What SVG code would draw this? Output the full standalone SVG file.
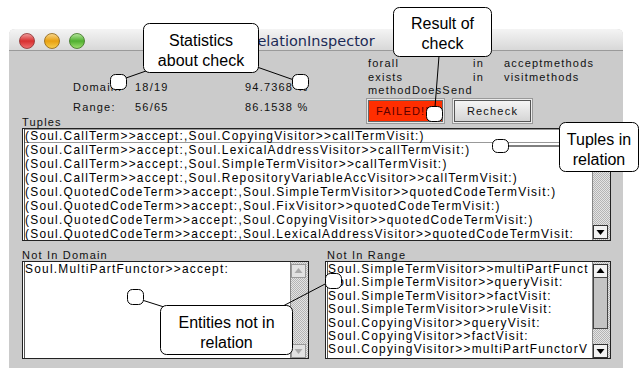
<svg xmlns="http://www.w3.org/2000/svg" width="640" height="368" viewBox="0 0 640 368">
<defs>
<style>
.lbl{font-family:"Liberation Sans",Arial,sans-serif;font-size:11px;letter-spacing:1.2px;fill:#111}
.lst{font-family:"Liberation Sans",Arial,sans-serif;font-size:11.9px;letter-spacing:1.25px;fill:#000}
.call{fill:#fff;stroke:#000;stroke-width:1}
.ct{font-family:"Liberation Sans",Arial,sans-serif;font-size:16px;fill:#000;text-anchor:middle}
.knob{fill:#fff;stroke:#000;stroke-width:1}
.conn{stroke:#000;stroke-width:1;fill:none}
.box{fill:#fff;stroke:#222;stroke-width:1}
.arr{fill:#f2f2f2;stroke:#333;stroke-width:1}
.arrd{fill:#e2e2e2;stroke:#999;stroke-width:1}
</style>
<linearGradient id="tb" x1="0" y1="0" x2="0" y2="1"><stop offset="0" stop-color="#f4f4f4"/><stop offset="1" stop-color="#d8d8d8"/></linearGradient>
<linearGradient id="lr" x1="0" y1="0" x2="0" y2="1"><stop offset="0" stop-color="#f0a0a0"/><stop offset="0.5" stop-color="#d83030"/><stop offset="1" stop-color="#f07070"/></linearGradient>
<linearGradient id="ly" x1="0" y1="0" x2="0" y2="1"><stop offset="0" stop-color="#f8d890"/><stop offset="0.5" stop-color="#e8a010"/><stop offset="1" stop-color="#f8d050"/></linearGradient>
<linearGradient id="lg" x1="0" y1="0" x2="0" y2="1"><stop offset="0" stop-color="#b8e8a0"/><stop offset="0.5" stop-color="#50b030"/><stop offset="1" stop-color="#a0e070"/></linearGradient>
<linearGradient id="btn" x1="0" y1="0" x2="0" y2="1"><stop offset="0" stop-color="#f6f6f6"/><stop offset="1" stop-color="#d4d4d4"/></linearGradient>
<pattern id="dots" width="2" height="2" patternUnits="userSpaceOnUse"><rect width="2" height="2" fill="#e4e4e4"/><rect width="1" height="1" fill="#b4b4b4"/><rect x="1" y="1" width="1" height="1" fill="#b4b4b4"/></pattern>
<clipPath id="cTup"><rect x="23" y="129" width="569" height="111"/></clipPath>
<clipPath id="cRng"><rect x="326" y="262" width="266" height="96"/></clipPath>
</defs>

<rect width="640" height="368" fill="#fff"/>

<g id="window">
<path d="M9,368 V35 Q9,29 15,29 H617 Q623,29 623,35 V368 Z" fill="#cbcbcb"/>
<path d="M9,50 V35 Q9,29 15,29 H617 Q623,29 623,35 V50 Z" fill="url(#tb)"/>
<line x1="9" y1="50.5" x2="623" y2="50.5" stroke="#9a9a9a"/>
<circle cx="27" cy="41" r="7.5" fill="url(#lr)" stroke="#8a3030" stroke-width="0.8"/>
<circle cx="52" cy="41" r="7.5" fill="url(#ly)" stroke="#8a6010" stroke-width="0.8"/>
<circle cx="77" cy="41" r="7.5" fill="url(#lg)" stroke="#3a7020" stroke-width="0.8"/>
<text x="248" y="46" font-family="DejaVu Sans,Verdana,sans-serif" font-size="14.5" fill="#1c2a55">RelationInspector</text>
</g>

<g id="stats">
<text class="lbl" x="73" y="91">Domain:</text>
<text class="lbl" x="135" y="91">18/19</text>
<text class="lbl" x="245" y="91">94.7368 %</text>
<text class="lbl" x="73" y="111">Range:</text>
<text class="lbl" x="135" y="111">56/65</text>
<text class="lbl" x="245" y="111">86.1538 %</text>
</g>

<g id="query">
<text class="lbl" x="368" y="67">forall</text>
<text class="lbl" x="473" y="67">in</text>
<text class="lbl" x="504" y="67">acceptmethods</text>
<text class="lbl" x="368" y="81">exists</text>
<text class="lbl" x="473" y="81">in</text>
<text class="lbl" x="504" y="81">visitmethods</text>
<text class="lbl" x="368" y="94">methodDoesSend</text>
</g>

<g id="failed">
<rect x="366.5" y="98.5" width="78" height="25" fill="#e8e8e8" stroke="#999"/>
<rect x="368.5" y="100.5" width="74" height="21" fill="#ff2e00" stroke="#666"/>
<text class="lbl" x="376" y="115" style="fill:#5a0000">FAILED!!</text>
</g>

<g id="recheck">
<rect x="452.5" y="98.5" width="80" height="25" fill="#ececec" stroke="#999"/>
<rect x="454.5" y="100.5" width="76" height="21" fill="url(#btn)" stroke="#555"/>
<text class="lbl" x="492.5" y="115" text-anchor="middle">Recheck</text>
</g>

<g id="tuples">
<text class="lbl" x="22" y="126">Tuples</text>
<rect class="box" x="22.5" y="128.5" width="588" height="112"/>
<line x1="24.5" y1="129" x2="24.5" y2="240" stroke="#555"/>
<rect x="24.5" y="129.5" width="567" height="13" fill="none" stroke="#333" stroke-dasharray="1,1"/>
<g clip-path="url(#cTup)">
<text class="lst" x="25" y="140">(Soul.CallTerm&gt;&gt;accept:,Soul.CopyingVisitor&gt;&gt;callTermVisit:)</text>
<text class="lst" x="25" y="154">(Soul.CallTerm&gt;&gt;accept:,Soul.LexicalAddressVisitor&gt;&gt;callTermVisit:)</text>
<text class="lst" x="25" y="168">(Soul.CallTerm&gt;&gt;accept:,Soul.SimpleTermVisitor&gt;&gt;callTermVisit:)</text>
<text class="lst" x="25" y="182">(Soul.CallTerm&gt;&gt;accept:,Soul.RepositoryVariableAccVisitor&gt;&gt;callTermVisit:)</text>
<text class="lst" x="25" y="196">(Soul.QuotedCodeTerm&gt;&gt;accept:,Soul.SimpleTermVisitor&gt;&gt;quotedCodeTermVisit:)</text>
<text class="lst" x="25" y="210">(Soul.QuotedCodeTerm&gt;&gt;accept:,Soul.FixVisitor&gt;&gt;quotedCodeTermVisit:)</text>
<text class="lst" x="25" y="224">(Soul.QuotedCodeTerm&gt;&gt;accept:,Soul.CopyingVisitor&gt;&gt;quotedCodeTermVisit:)</text>
<text class="lst" x="25" y="238">(Soul.QuotedCodeTerm&gt;&gt;accept:,Soul.LexicalAddressVisitor&gt;&gt;quotedCodeTermVisit:</text>
</g>
<rect x="592" y="129" width="18" height="111" fill="url(#dots)"/>
<line x1="592.5" y1="129" x2="592.5" y2="240" stroke="#888"/>
<rect class="arr" x="593.5" y="225.5" width="14" height="13"/>
<polygon points="596.5,230 604.5,230 600.5,235" fill="#000"/>
</g>

<g id="notInDomain">
<text class="lbl" x="22" y="259">Not In Domain</text>
<rect class="box" x="22.5" y="261.5" width="286" height="97"/>
<line x1="24.5" y1="262" x2="24.5" y2="358" stroke="#555"/>
<text class="lst" x="25" y="273">Soul.MultiPartFunctor&gt;&gt;accept:</text>
<rect x="290" y="262" width="18" height="96" fill="url(#dots)"/>
<line x1="290.5" y1="262" x2="290.5" y2="358" stroke="#888"/>
<rect class="arrd" x="291.5" y="264.5" width="14" height="13"/>
<polygon points="294.5,273 302.5,273 298.5,268" fill="#aaa"/>
<rect class="arrd" x="291.5" y="344.5" width="14" height="13"/>
<polygon points="294.5,349 302.5,349 298.5,354" fill="#aaa"/>
</g>

<g id="notInRange">
<text class="lbl" x="327" y="259">Not In Range</text>
<rect class="box" x="325.5" y="261.5" width="285" height="97"/>
<line x1="327.5" y1="262" x2="327.5" y2="358" stroke="#555"/>
<g clip-path="url(#cRng)">
<text class="lst" x="328" y="273">Soul.SimpleTermVisitor&gt;&gt;multiPartFunct</text>
<text class="lst" x="328" y="286.4">Soul.SimpleTermVisitor&gt;&gt;queryVisit:</text>
<text class="lst" x="328" y="299.8">Soul.SimpleTermVisitor&gt;&gt;factVisit:</text>
<text class="lst" x="328" y="313.2">Soul.SimpleTermVisitor&gt;&gt;ruleVisit:</text>
<text class="lst" x="328" y="326.6">Soul.CopyingVisitor&gt;&gt;queryVisit:</text>
<text class="lst" x="328" y="340">Soul.CopyingVisitor&gt;&gt;factVisit:</text>
<text class="lst" x="328" y="353.4">Soul.CopyingVisitor&gt;&gt;multiPartFunctorV</text>
</g>
<rect x="592" y="262" width="18" height="96" fill="url(#dots)"/>
<line x1="592.5" y1="262" x2="592.5" y2="358" stroke="#888"/>
<rect class="arr" x="593.5" y="264.5" width="14" height="13"/>
<polygon points="596.5,273 604.5,273 600.5,268" fill="#000"/>
<rect x="593.5" y="277.5" width="14" height="51" fill="#c4c4c4" stroke="#444"/>
<rect class="arr" x="593.5" y="344.5" width="14" height="13"/>
<polygon points="596.5,349 604.5,349 600.5,354" fill="#000"/>
</g>

<g id="connectors">
<line class="conn" x1="126" y1="78" x2="146" y2="71"/>
<line class="conn" x1="257" y1="67" x2="294" y2="80"/>
<line class="conn" x1="439" y1="56" x2="435" y2="107"/>
<line class="conn" x1="507" y1="146" x2="560" y2="146"/>
<line class="conn" x1="142" y1="300" x2="164" y2="307"/>
<line class="conn" x1="283" y1="306" x2="327" y2="283"/>
</g>

<g id="knobs">
<rect class="knob" x="110.5" y="74.5" width="16" height="15" rx="5"/>
<rect class="knob" x="292.5" y="74.5" width="16" height="15" rx="5"/>
<rect class="knob" x="426.5" y="106.5" width="16" height="15" rx="5"/>
<rect class="knob" x="492.5" y="139.5" width="16" height="13" rx="5"/>
<rect class="knob" x="127.5" y="289.5" width="16" height="15" rx="5"/>
<rect class="knob" x="325.5" y="273.5" width="16" height="15" rx="5"/>
</g>

<g id="callout-statistics">
<rect class="call" x="143.5" y="23.5" width="115" height="49" rx="6"/>
<text class="ct" x="201" y="46">Statistics</text>
<text class="ct" x="201" y="66">about check</text>
</g>

<g id="callout-result">
<rect class="call" x="393.5" y="7.5" width="98" height="49" rx="6"/>
<text class="ct" x="442.5" y="29">Result of</text>
<text class="ct" x="442.5" y="49">check</text>
</g>

<g id="callout-tuples">
<rect class="call" x="559.5" y="122.5" width="79" height="49" rx="6"/>
<text class="ct" x="599" y="145">Tuples in</text>
<text class="ct" x="599" y="165">relation</text>
</g>

<g id="callout-entities">
<rect class="call" x="160.5" y="305.5" width="132" height="49" rx="6"/>
<text class="ct" x="226.5" y="328">Entities not in</text>
<text class="ct" x="226.5" y="348">relation</text>
</g>
</svg>
